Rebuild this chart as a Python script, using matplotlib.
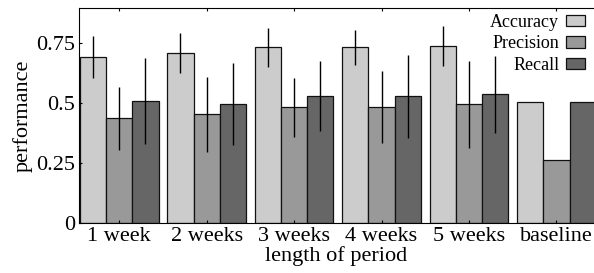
import matplotlib
matplotlib.use("Agg")
import matplotlib.pyplot as plt
import numpy as np

plt.rcParams['font.family'] = ['Liberation Serif', 'DejaVu Serif']

categories = ["1 week", "2 weeks", "3 weeks", "4 weeks", "5 weeks", "baseline"]
accuracy = [0.693, 0.710, 0.732, 0.732, 0.739, 0.503]
accuracy_err = [0.087, 0.083, 0.080, 0.072, 0.084, 0.0]
precision = [0.436, 0.453, 0.483, 0.483, 0.495, 0.264]
precision_err = [0.132, 0.157, 0.123, 0.149, 0.182, 0.0]
recall = [0.508, 0.496, 0.529, 0.529, 0.536, 0.503]
recall_err = [0.179, 0.171, 0.145, 0.173, 0.161, 0.0]
yticks = [0, 0.25, 0.5, 0.75]
ytick_labels = ["0", "0.25", "0.5", "0.75"]

fig = plt.figure(figsize=(5.94, 2.73), dpi=100)
ax = fig.add_axes([79/594, 50/273, 1 - 79/594, 215/273])

x = np.arange(len(categories))
w = 0.3
series = [("Accuracy", accuracy, accuracy_err, "#cccccc"),
          ("Precision", precision, precision_err, "#999999"),
          ("Recall", recall, recall_err, "#666666")]
for k, (name, vals, errs, col) in enumerate(series):
    ax.bar(x + (k - 1) * w, vals, w, color=col, edgecolor="#111111", linewidth=0.9,
           label=name, yerr=errs, error_kw=dict(ecolor="black", elinewidth=1.0, capsize=0))

ax.set_xlim(-0.46, 5.43)
ax.set_ylim(0, 0.896)
ax.set_yticks(yticks)
ax.set_yticklabels(ytick_labels)
ax.set_xticks(x)
ax.set_xticklabels(categories)
ax.tick_params(axis='both', direction='in', length=2, labelsize=16, top=True, pad=3)
ax.spines['right'].set_visible(False)
ax.set_xlabel("length of period", fontsize=16, labelpad=0)
ax.set_ylabel("performance", fontsize=16, labelpad=2)

leg = ax.legend(loc="upper right", bbox_to_anchor=(0.994, 0.998), markerfirst=False, frameon=False,
                fontsize=13, handlelength=1.1, handleheight=0.6, labelspacing=0.25,
                handletextpad=0.35, borderaxespad=0.0, borderpad=0.3)

fig.savefig("out.png", dpi=100)
